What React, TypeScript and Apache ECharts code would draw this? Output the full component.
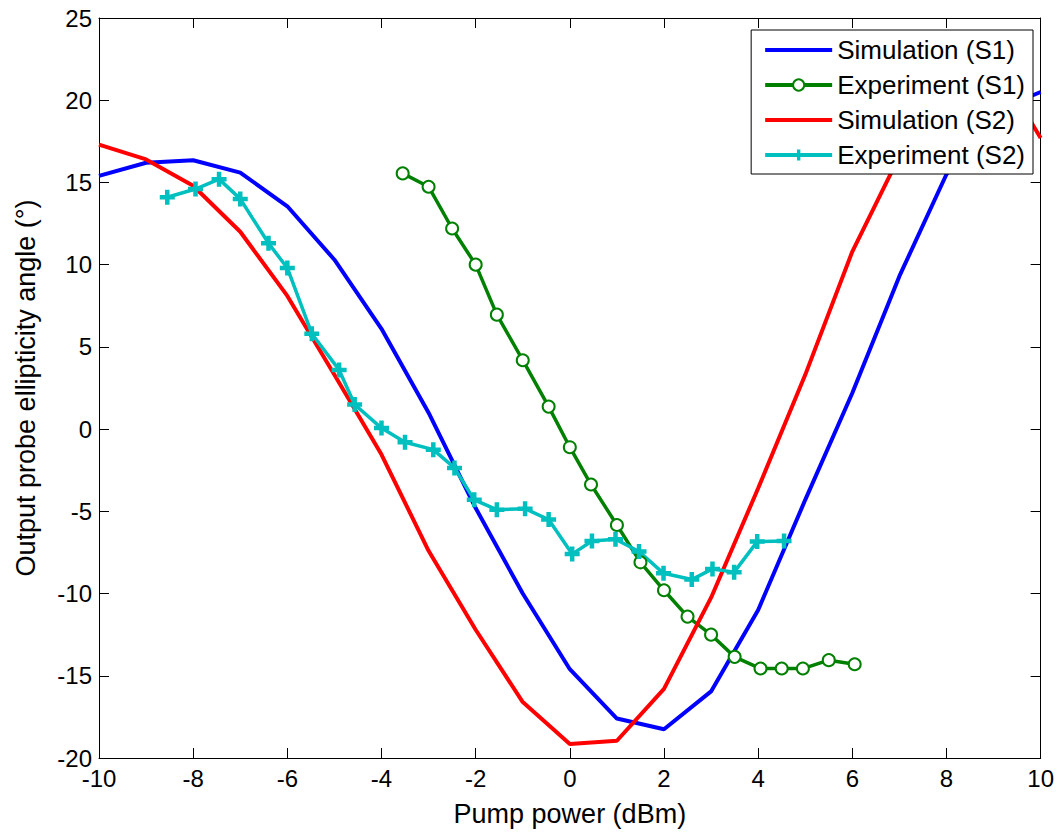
import React, { useEffect, useRef } from "react";
import * as echarts from "echarts";

// Simulation curves sampled at integer pump powers
const simX = [-10, -9, -8, -7, -6, -5, -4, -3, -2, -1, 0, 1, 2, 3, 4, 5, 6, 7, 8, 9, 10];
const simS1 = [15.4, 16.2, 16.35, 15.6, 13.55, 10.3, 6.1, 1.0, -4.8, -10.0, -14.6, -17.6, -18.25, -15.95, -11.0, -4.3, 2.2, 9.3, 15.5, 19.3, 20.5];
const simS2 = [17.3, 16.4, 14.8, 12.0, 8.1, 3.3, -1.55, -7.4, -12.2, -16.6, -19.15, -18.95, -15.8, -10.25, -3.6, 3.3, 10.8, 16.6, 20.8, 22.5, 17.7];

// Experiment (S1)
const expS1X = [-3.55, -3, -2.5, -2, -1.55, -1, -0.45, 0, 0.45, 1, 1.5, 2, 2.5, 3, 3.5, 4.05, 4.5, 4.95, 5.5, 6.05];
const expS1Y = [15.55, 14.74, 12.2, 10.0, 6.96, 4.19, 1.37, -1.1, -3.37, -5.83, -8.1, -9.8, -11.4, -12.5, -13.85, -14.56, -14.56, -14.56, -14.05, -14.3];

// Experiment (S2)
const expS2X = [-8.55, -7.95, -7.45, -7.0, -6.4, -6.0, -5.48, -4.9, -4.57, -4.0, -3.5, -2.9, -2.45, -2.03, -1.55, -0.95, -0.45, 0.05, 0.47, 0.97, 1.47, 1.99, 2.59, 3.03, 3.49, 3.98, 4.55];
const expS2Y = [14.1, 14.6, 15.2, 14.0, 11.3, 9.8, 5.8, 3.6, 1.5, 0.06, -0.8, -1.25, -2.36, -4.3, -4.9, -4.84, -5.5, -7.6, -6.8, -6.7, -7.44, -8.77, -9.15, -8.5, -8.7, -6.84, -6.8];

const seriesNames = ["Simulation (S1)", "Experiment (S1)", "Simulation (S2)", "Experiment (S2)"];
const seriesColors = ["#0000ff", "#008000", "#ff0000", "#00bfbf"];
const xTitle = "Pump power (dBm)";
const yTitle = "Output probe ellipticity angle (°)";

const FONT = "'Liberation Sans', Arial, Helvetica, sans-serif";
const PLUS = "path://M3.5,0H6.5V3.5H10V6.5H6.5V10H3.5V6.5H0V3.5H3.5Z";

export default function App() {
  const ref = useRef<HTMLDivElement>(null);

  useEffect(() => {
    if (!ref.current) return;
    const chart = echarts.init(ref.current, undefined, { renderer: "svg" });

    const axisLine = { show: true, onZero: false, lineStyle: { color: "#000", width: 1 } };
    const tick = { show: true, inside: true, length: 10, lineStyle: { color: "#000", width: 1 } };
    const label = { color: "#000", fontSize: 24, fontFamily: FONT };

    chart.setOption({
      animation: false,
      backgroundColor: "#fff",
      grid: { left: 99, right: 15, top: 18, bottom: 70, containLabel: false },
      xAxis: [
        {
          type: "value", min: -10, max: 10, interval: 2, position: "bottom",
          axisLine, axisTick: tick, splitLine: { show: false },
          axisLabel: { ...label, margin: 8 },
          name: xTitle, nameLocation: "middle", nameGap: 42,
          nameTextStyle: { color: "#000", fontSize: 27, fontFamily: FONT },
        },
        {
          type: "value", min: -10, max: 10, interval: 2, position: "top",
          axisLine, axisTick: tick, splitLine: { show: false }, axisLabel: { show: false },
        },
      ],
      yAxis: [
        {
          type: "value", min: -20, max: 25, interval: 5, position: "left",
          axisLine, axisTick: tick, splitLine: { show: false },
          axisLabel: { ...label, margin: 7 },
          name: yTitle, nameLocation: "middle", nameGap: 60,
          nameTextStyle: { color: "#000", fontSize: 27, fontFamily: FONT },
        },
        {
          type: "value", min: -20, max: 25, interval: 5, position: "right",
          axisLine, axisTick: tick, splitLine: { show: false }, axisLabel: { show: false },
        },
      ],
      legend: {
        orient: "vertical",
        right: 24,
        top: 30,
        padding: [5, 8, 4, 12],
        itemGap: 5,
        itemWidth: 67,
        itemHeight: 14,
        backgroundColor: "#fff",
        borderColor: "#000",
        borderWidth: 1,
        borderRadius: 0,
        z: 10,
        textStyle: { color: "#000", fontSize: 26, fontFamily: FONT, lineHeight: 30 },
        data: [
          { name: seriesNames[0], itemStyle: { opacity: 0 }, lineStyle: { width: 4, color: seriesColors[0] } },
          { name: seriesNames[1], lineStyle: { width: 4, color: seriesColors[1] } },
          { name: seriesNames[2], itemStyle: { opacity: 0 }, lineStyle: { width: 4, color: seriesColors[2] } },
          { name: seriesNames[3], lineStyle: { width: 4, color: seriesColors[3] } },
        ],
      },
      series: [
        {
          name: seriesNames[0], type: "line", symbol: "none",
          lineStyle: { color: seriesColors[0], width: 4 }, itemStyle: { color: seriesColors[0] },
          data: simX.map((x, i) => [x, simS1[i]]),
        },
        {
          name: seriesNames[1], type: "line", symbol: "emptyCircle", symbolSize: 12,
          lineStyle: { color: seriesColors[1], width: 3.5 },
          itemStyle: { color: seriesColors[1], borderColor: seriesColors[1], borderWidth: 3.5 },
          data: expS1X.map((x, i) => [x, expS1Y[i]]),
        },
        {
          name: seriesNames[2], type: "line", symbol: "none",
          lineStyle: { color: seriesColors[2], width: 4 }, itemStyle: { color: seriesColors[2] },
          data: simX.map((x, i) => [x, simS2[i]]),
        },
        {
          name: seriesNames[3], type: "line", symbol: PLUS, symbolSize: 15,
          lineStyle: { color: seriesColors[3], width: 3.5 },
          itemStyle: { color: seriesColors[3] },
          data: expS2X.map((x, i) => [x, expS2Y[i]]),
        },
      ],
    });

    return () => chart.dispose();
  }, []);

  return (
    <div
      ref={ref}
      style={{ position: "fixed", left: 0, top: 0, width: 1057, height: 832, background: "#fff" }}
    />
  );
}
